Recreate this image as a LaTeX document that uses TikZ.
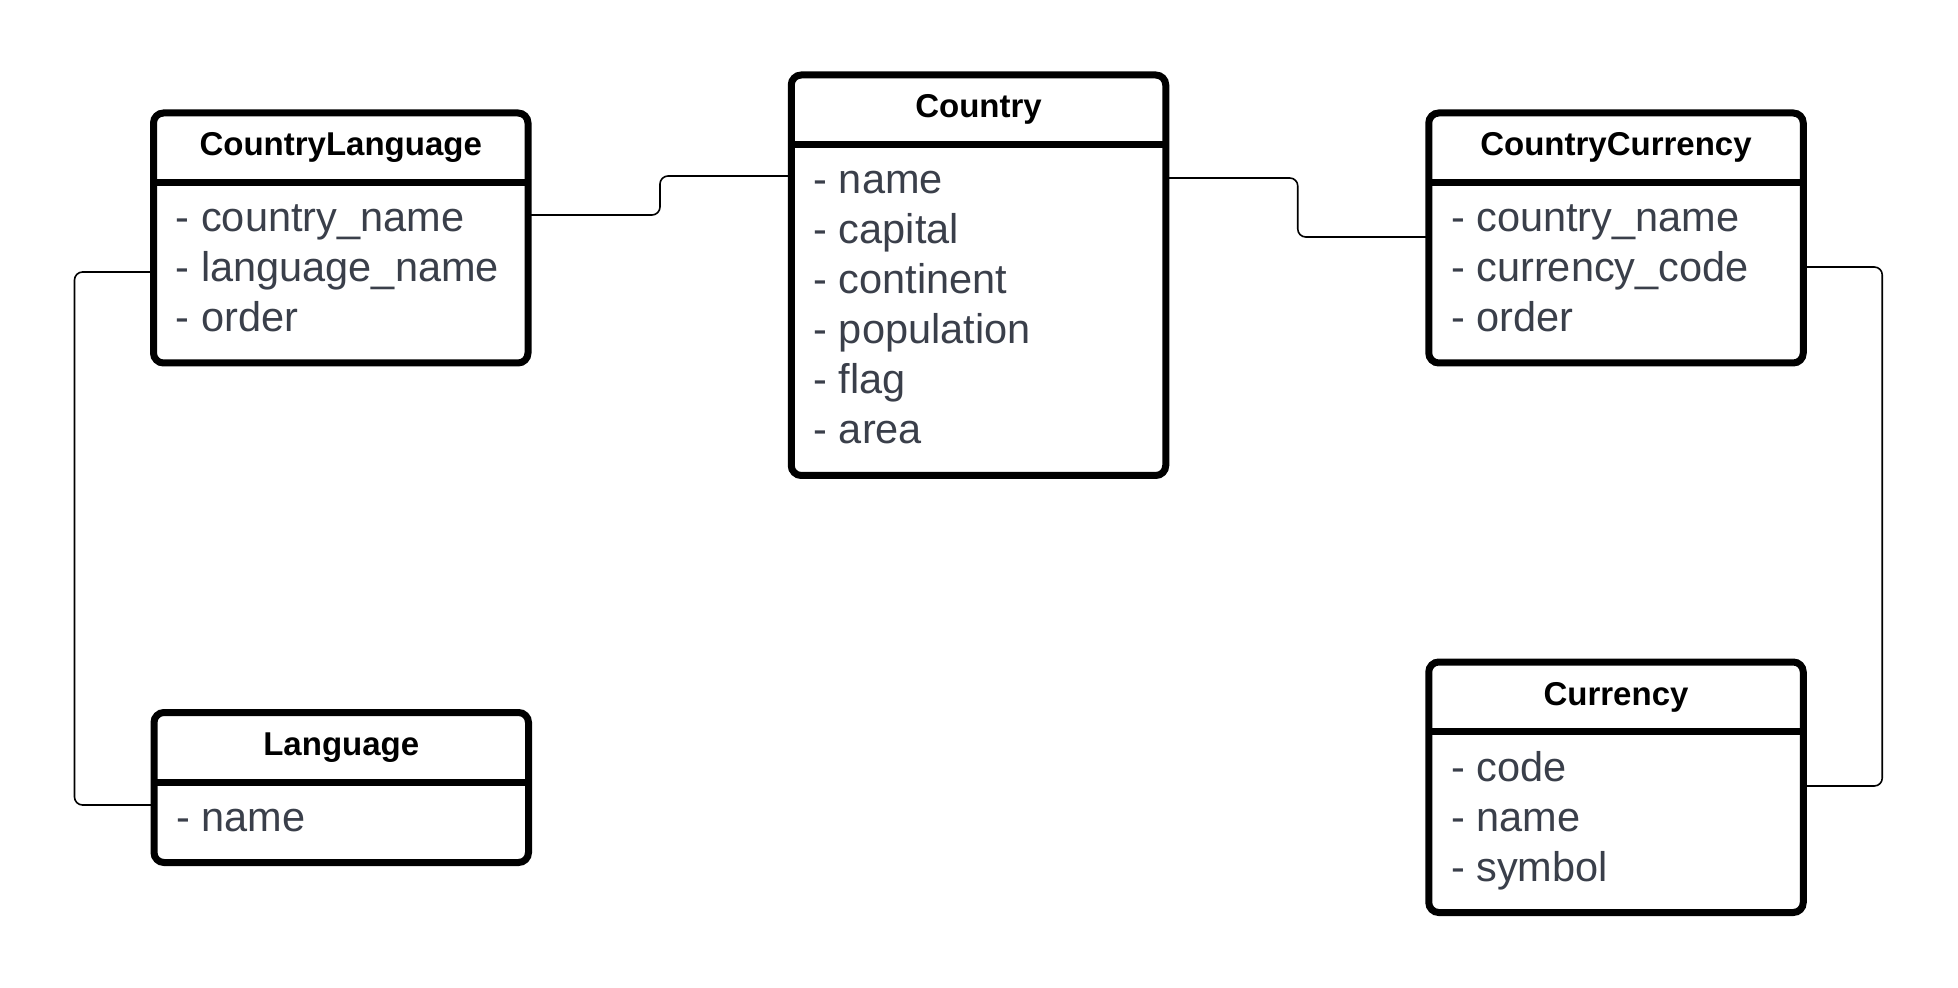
\documentclass[tikz,border=0pt]{standalone}
\usepackage{fontspec}
\setmainfont{Liberation Sans}
\usetikzlibrary{calc}
\definecolor{attrgray}{HTML}{3A3F4A}
\tikzset{
  umlbox/.style={draw=black, line width=3.5pt, rounded corners=5pt, fill=white,
    minimum width=187.25pt, outer sep=0pt, inner sep=0pt},
  sepline/.style={draw=black, line width=3.5pt},
  ttl/.style={anchor=base, inner sep=0pt, font=\fontsize{16.5}{20}\selectfont\bfseries, text=black},
  attr/.style={anchor=base west, inner sep=0pt, font=\fontsize{20.75}{25}\selectfont, text=attrgray},
  conn/.style={draw=black, line width=0.8pt, rounded corners=4pt}
}
\begin{document}
\begin{tikzpicture}[x=0.5pt, y=-0.5pt]
\useasboundingbox[fill=white] (0,0) rectangle (1958,988);

% boxes
\node[umlbox, minimum height=125pt] (CL) at (340.75,238) {};
\node[umlbox, minimum height=200.25pt] (Country) at (978.5,275.25) {};
\node[umlbox, minimum height=125pt] (CC) at (1616,238) {};
\node[umlbox, minimum height=75pt] (Lang) at (341.25,787.5) {};
\node[umlbox, minimum height=125.25pt] (Cur) at (1616,787.25) {};

% separators
\foreach \b in {CL,Country,CC,Lang,Cur}{
  \draw[sepline] ($(\b.north west)+(0,69.5)$) -- ($(\b.north east)+(0,69.5)$);
}

% titles
\node[ttl] (CLt) at ($(CL.north)+(0,43)$) {CountryLanguage};
\node[ttl] (Countryt) at ($(Country.north)+(0,42.5)$) {Country};
\node[ttl] (CCt) at ($(CC.north)+(0,43)$) {CountryCurrency};
\node[ttl] (Langt) at ($(Lang.north)+(0,43)$) {Language};
\node[ttl] (Curt) at ($(Cur.north)+(0,43)$) {Currency};

% attributes
\node[attr] (CL1) at ($(CL.north west)+(22,119)$) {- country\_name};
\node[attr] (CL2) at ($(CL.north west)+(22,169)$) {- language\_name};
\node[attr] (CL3) at ($(CL.north west)+(22,219)$) {- order};

\node[attr] (Co1) at ($(Country.north west)+(22,119)$) {- name};
\node[attr] (Co2) at ($(Country.north west)+(22,169)$) {- capital};
\node[attr] (Co3) at ($(Country.north west)+(22,219)$) {- continent};
\node[attr] (Co4) at ($(Country.north west)+(22,269)$) {- population};
\node[attr] (Co5) at ($(Country.north west)+(22,319)$) {- flag};
\node[attr] (Co6) at ($(Country.north west)+(22,369)$) {- area};

\node[attr] (CC1) at ($(CC.north west)+(22,119)$) {- country\_name};
\node[attr] (CC2) at ($(CC.north west)+(22,169)$) {- currency\_code};
\node[attr] (CC3) at ($(CC.north west)+(22,219)$) {- order};

\node[attr] (La1) at ($(Lang.north west)+(22,119)$) {- name};

\node[attr] (Cu1) at ($(Cur.north west)+(22,119)$) {- code};
\node[attr] (Cu2) at ($(Cur.north west)+(22,169)$) {- name};
\node[attr] (Cu3) at ($(Cur.north west)+(22,219)$) {- symbol};

% connectors
\draw[conn] ($(CL.north east)+(0,102)$) -- ++(132,0) |- ($(Country.north west)+(0,101)$);
\draw[conn] ($(Country.north east)+(0,103)$) -- ++(132,0) |- ($(CC.north west)+(0,124)$);
\draw[conn] ($(CL.north west)+(0,159)$) -- ++(-79,0) |- ($(Lang.north west)+(0,92.5)$);
\draw[conn] ($(CC.north east)+(0,154)$) -- ++(79,0) |- ($(Cur.north east)+(0,124)$);
\end{tikzpicture}
\end{document}
